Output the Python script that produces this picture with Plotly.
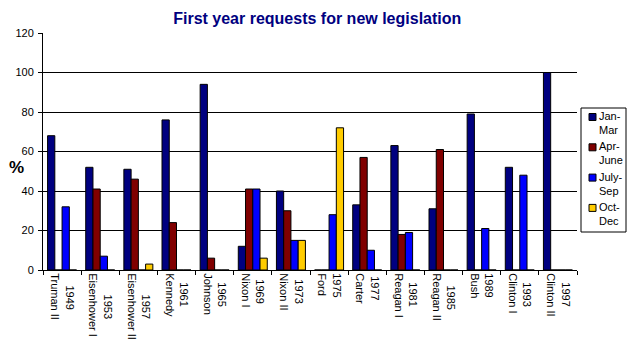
import plotly.graph_objects as go

presidents = ["Truman II", "Eisenhower I", "Eisenhower II", "Kennedy", "Johnson", "Nixon I",
              "Nixon II", "Ford", "Carter", "Reagan I", "Reagan II", "Bush", "Clinton I", "Clinton II"]
years = ["1949", "1953", "1957", "1961", "1965", "1969", "1973", "1975", "1977", "1981",
         "1985", "1989", "1993", "1997"]

jan_mar = [68, 52, 51, 76, 94, 12, 40, 0, 33, 63, 31, 79, 52, 100]
apr_june = [0, 41, 46, 24, 6, 41, 30, 0, 57, 18, 61, 0, 0, 0]
july_sep = [32, 7, 0, 0, 0, 41, 15, 28, 10, 19, 0, 21, 48, 0]
oct_dec = [0, 0, 3, 0, 0, 6, 15, 72, 0, 0, 0, 0, 0, 0]

series_names = ["Jan-<br>Mar", "Apr-<br>June", "July-<br>Sep", "Oct-<br>Dec"]
series_values = [jan_mar, apr_june, july_sep, oct_dec]
colors = ["#000080", "#800000", "#0000FF", "#FFCC00"]

FONT = "Liberation Sans, Arial, sans-serif"

# approximate Arial 11px glyph widths, used only to centre the two label lines
def text_w(s):
    w = 0.0
    for c in s:
        if c in "iIl":
            w += 2.6
        elif c == " ":
            w += 3.06
        elif c in "mwM":
            w += 8.5
        elif c in "rft":
            w += 3.7
        elif c.isupper():
            w += 7.3
        else:
            w += 6.1
    return w

tick_text = []
for p, y in zip(presidents, years):
    pad = max(0, round((text_w(p) - text_w(y)) / 2 / 3.06))
    tick_text.append("\u00a0" * pad + y + "<br>" + p)

# plot area in pixels (for the legend box placement)
W, H = 632, 354
L, R, T, B = 43, 55, 33, 84
PW, PH = W - L - R, H - T - B

def px_x(x):
    return (x - L) / PW

def px_y(y):
    return (H - B - y) / PH

fig = go.Figure()
for name, vals, col in zip(series_names, series_values, colors):
    fig.add_trace(go.Bar(
        x=presidents, y=vals, name=name,
        marker=dict(color=col, line=dict(color="black", width=1)),
    ))

shapes = [dict(type="rect", xref="paper", yref="paper",
               x0=px_x(581), x1=px_x(626), y0=px_y(232), y1=px_y(108),
               line=dict(color="black", width=1), fillcolor="white", layer="above")]
annotations = [dict(text="<b>%</b>", xref="paper", yref="paper", x=px_x(16), y=px_y(167),
                    xanchor="center", yanchor="middle", showarrow=False,
                    font=dict(family=FONT, size=17, color="black"))]
for i, (name, col) in enumerate(zip(series_names, colors)):
    cy = 117 + i * 30.3
    shapes.append(dict(type="rect", xref="paper", yref="paper",
                       x0=px_x(589), x1=px_x(596), y0=px_y(cy + 3.5), y1=px_y(cy - 3.5),
                       line=dict(color="black", width=1), fillcolor=col, layer="above"))
    annotations.append(dict(text=name, xref="paper", yref="paper", x=px_x(597), y=px_y(cy - 9),
                            xanchor="left", yanchor="top", align="left", showarrow=False,
                            font=dict(family=FONT, size=11, color="black")))

fig.update_layout(
    width=W, height=H,
    margin=dict(l=L, r=R, t=T, b=B, autoexpand=False),
    paper_bgcolor="white", plot_bgcolor="white",
    barmode="group", bargap=0.24, bargroupgap=0,
    font=dict(family=FONT, size=11, color="black"),
    title=dict(text="<b>First year requests for new legislation</b>",
               font=dict(family=FONT, size=16, color="#000080"),
               x=0.502, xref="container", xanchor="center", y=0.947, yanchor="middle"),
    showlegend=False,
    shapes=shapes,
    annotations=annotations,
)
fig.update_xaxes(
    type="category", tickmode="array", tickvals=presidents, ticktext=tick_text,
    tickangle=90, tickson="boundaries", ticks="outside", ticklen=4, tickcolor="black",
    showline=True, linecolor="black", linewidth=1, showgrid=False,
    tickfont=dict(family=FONT, size=11, color="black"),
)
fig.update_yaxes(
    range=[0, 120], dtick=20, ticks="outside", ticklen=4, tickcolor="black",
    showline=True, linecolor="black", linewidth=1,
    showgrid=True, gridcolor="black", gridwidth=1, zeroline=False,
    ticklabelstandoff=2,
    tickfont=dict(family=FONT, size=11, color="black"),
)

fig.write_html("out.html")
